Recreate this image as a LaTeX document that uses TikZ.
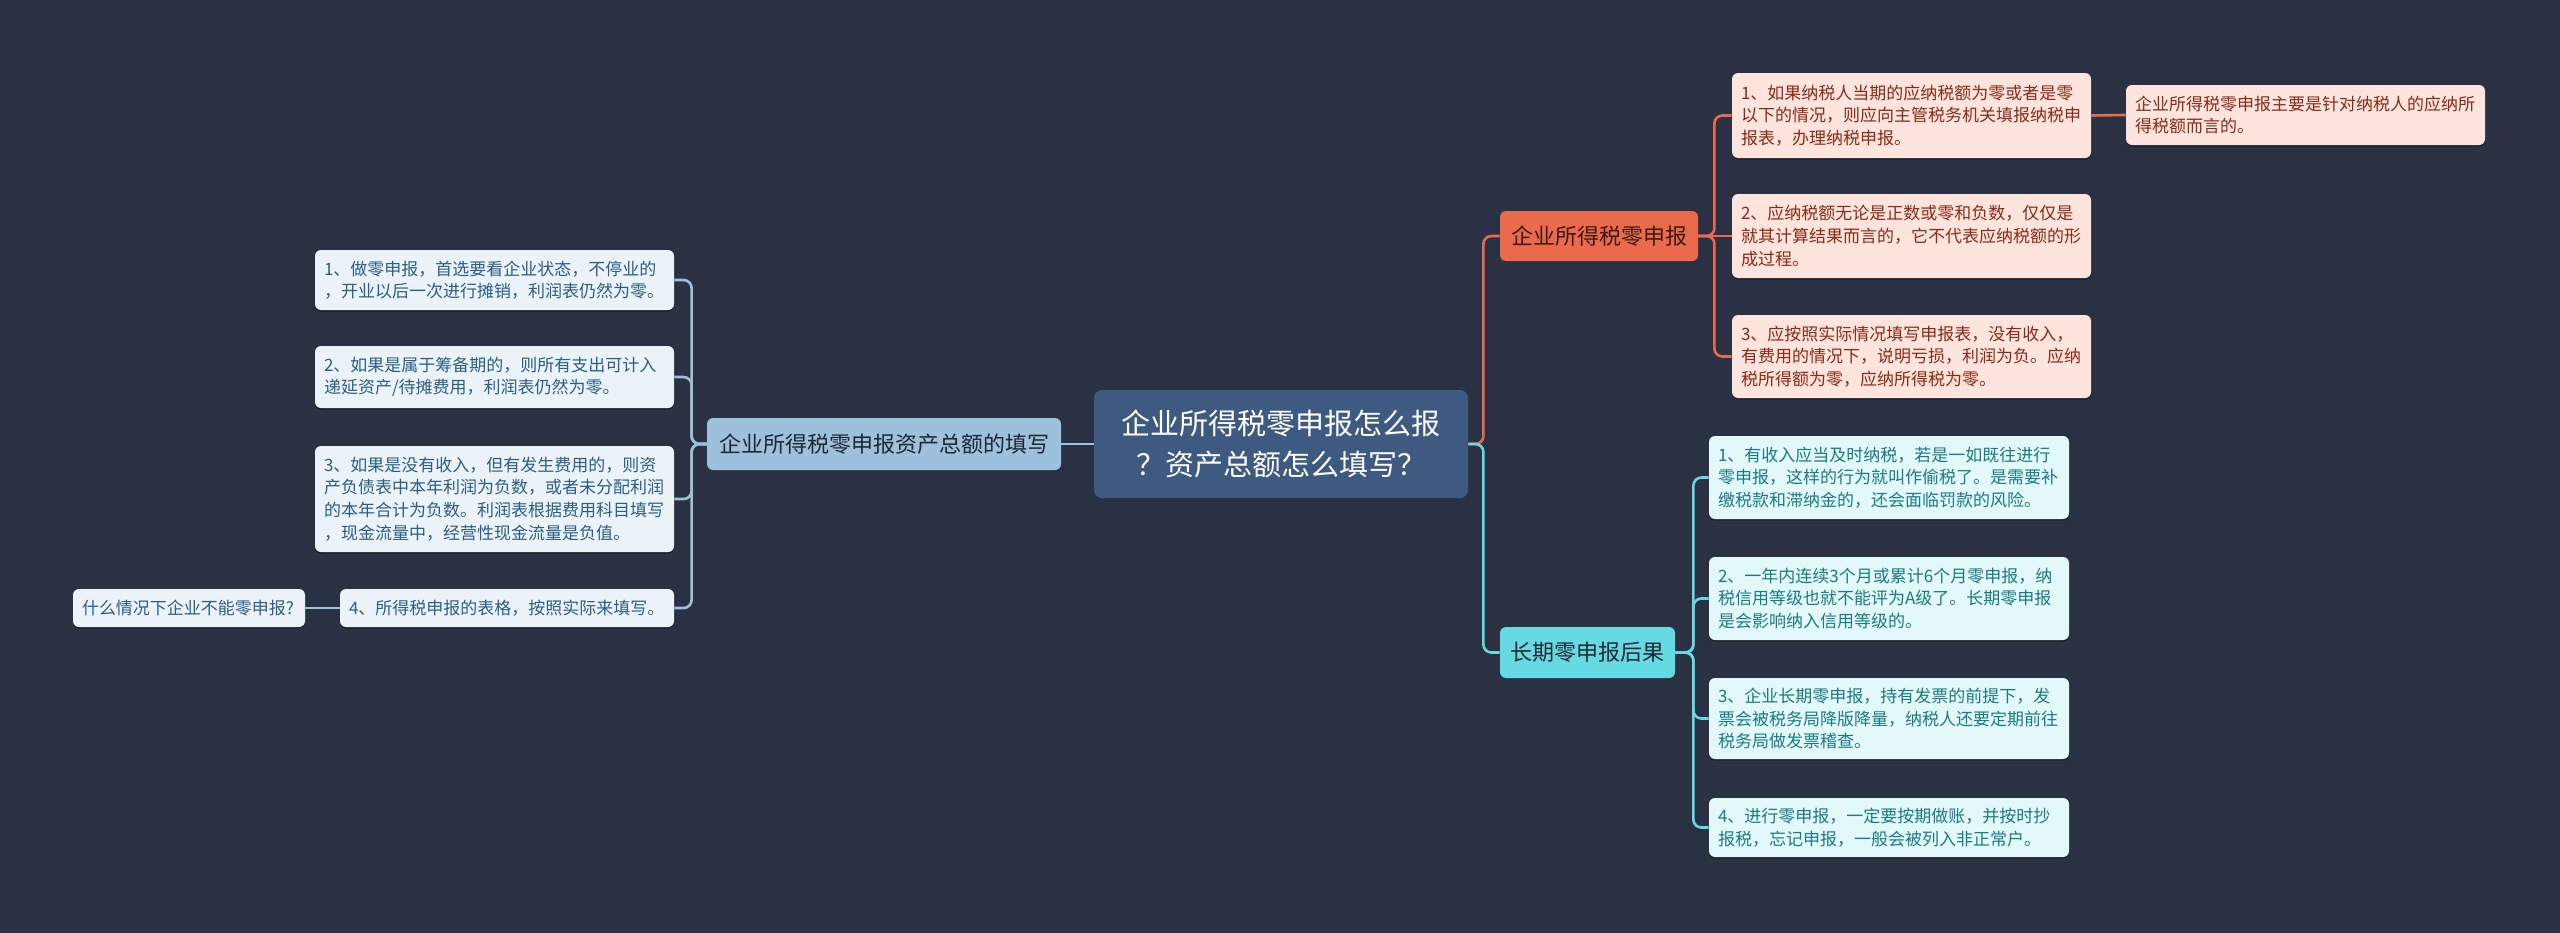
\documentclass[tikz,border=0pt]{standalone}
\usepackage{fontspec}
\setmainfont{Noto Sans CJK SC}
\usetikzlibrary{shadows}
\definecolor{bgc}{HTML}{2A3142}
\definecolor{centerc}{HTML}{3E5A80}
\definecolor{orangec}{HTML}{EB6A4C}
\definecolor{orangeleaf}{HTML}{FDE4DC}
\definecolor{orangetext}{HTML}{8A2A18}
\definecolor{orangebr}{HTML}{3B1B14}
\definecolor{cyanc}{HTML}{66DAE2}
\definecolor{cyanleaf}{HTML}{E2F8F9}
\definecolor{cyantext}{HTML}{1B7A82}
\definecolor{bluec}{HTML}{9DC1DC}
\definecolor{blueleaf}{HTML}{EBF3F9}
\definecolor{bluetext}{HTML}{2C5E84}
\definecolor{darktext}{HTML}{1E2733}
\begin{document}
\begin{tikzpicture}[x=0.5pt,y=-0.5pt,
  leafbase/.style={rounded corners=3pt, inner xsep=4.5pt, inner ysep=0pt, align=left,
     font=\fontsize{8.5}{11.3}\selectfont,
     drop shadow={shadow xshift=0pt, shadow yshift=-0.8pt, opacity=0.35, fill=black}},
  oleaf/.style={leafbase, fill=orangeleaf, text=orangetext},
  cleaf/.style={leafbase, fill=cyanleaf, text=cyantext},
  bleaf/.style={leafbase, fill=blueleaf, text=bluetext},
  branch/.style={rounded corners=3pt, inner sep=0pt, align=center, font=\fontsize{11}{14}\selectfont},
  oline/.style={draw=orangec, line width=1.3pt, rounded corners=4pt},
  cline/.style={draw=cyanc, line width=1.3pt, rounded corners=4pt},
  bline/.style={draw=bluec, line width=1.3pt, rounded corners=4pt}
]
\useasboundingbox (0,0) rectangle (2560,932);
\fill[bgc] (-2,-2) rectangle (2562,934);

% center
\node[rounded corners=4pt, fill=centerc, text=white, align=center, inner sep=0pt,
  minimum width=187pt, minimum height=54pt, font=\fontsize{14.5}{20.5}\selectfont]
  (C) at (1281,444) {企业所得税零申报怎么报\\？资产总额怎么填写？};

% branches
\node[branch, fill=orangec, text=orangebr, minimum width=99pt, minimum height=25pt]
  (bO) at (1599,236) {企业所得税零申报};
\node[branch, fill=cyanc, text=darktext, minimum width=87.5pt, minimum height=25.5pt]
  (bC) at (1587.5,652.5) {长期零申报后果};
\node[branch, fill=bluec, text=darktext, minimum width=177pt, minimum height=26pt]
  (bL) at (884,444) {企业所得税零申报资产总额的填写};

% orange leaves
\node[oleaf, minimum width=179.5pt, text width=170.5pt, minimum height=42.5pt]
  (O1) at (1911.5,115.5) {1、如果纳税人当期的应纳税额为零或者是零\\以下的情况，则应向主管税务机关填报纳税申\\报表，办理纳税申报。};
\node[oleaf, minimum width=179.5pt, text width=170.5pt, minimum height=42pt]
  (O2) at (1911.5,236) {2、应纳税额无论是正数或零和负数，仅仅是\\就其计算结果而言的，它不代表应纳税额的形\\成过程。};
\node[oleaf, minimum width=179.5pt, text width=170.5pt, minimum height=41.5pt]
  (O3) at (1911.5,356.5) {3、应按照实际情况填写申报表，没有收入，\\有费用的情况下，说明亏损，利润为负。应纳\\税所得额为零，应纳所得税为零。};
\node[oleaf, minimum width=179.5pt, text width=170.5pt, minimum height=30pt]
  (SO) at (2305.5,115) {企业所得税零申报主要是针对纳税人的应纳所\\得税额而言的。};

% cyan leaves
\node[cleaf, minimum width=180pt, text width=171pt, minimum height=41.5pt]
  (C1) at (1889,477.5) {1、有收入应当及时纳税，若是一如既往进行\\零申报，这样的行为就叫作偷税了。是需要补\\缴税款和滞纳金的，还会面临罚款的风险。};
\node[cleaf, minimum width=180pt, text width=171pt, minimum height=41.5pt]
  (C2) at (1889,598.5) {2、一年内连续3个月或累计6个月零申报，纳\\税信用等级也就不能评为A级了。长期零申报\\是会影响纳入信用等级的。};
\node[cleaf, minimum width=180pt, text width=171pt, minimum height=40.5pt]
  (C3) at (1889,718.5) {3、企业长期零申报，持有发票的前提下，发\\票会被税务局降版降量，纳税人还要定期前往\\税务局做发票稽查。};
\node[cleaf, minimum width=180pt, text width=171pt, minimum height=29.5pt]
  (C4) at (1889,827.5) {4、进行零申报，一定要按期做账，并按时抄\\报税，忘记申报，一般会被列入非正常户。};

% left leaves
\node[bleaf, minimum width=179.5pt, text width=170.5pt, minimum height=30pt]
  (L1) at (494.5,280) {1、做零申报，首选要看企业状态，不停业的\\，开业以后一次进行摊销，利润表仍然为零。};
\node[bleaf, minimum width=179.5pt, text width=170.5pt, minimum height=31pt]
  (L2) at (494.5,377) {2、如果是属于筹备期的，则所有支出可计入\\递延资产/待摊费用，利润表仍然为零。};
\node[bleaf, minimum width=179.5pt, text width=170.5pt, minimum height=53pt]
  (L3) at (494.5,499) {3、如果是没有收入，但有发生费用的，则资\\产负债表中本年利润为负数，或者未分配利润\\的本年合计为负数。利润表根据费用科目填写\\，现金流量中，经营性现金流量是负值。};
\node[bleaf, minimum width=167pt, text width=158pt, minimum height=19pt]
  (L4) at (507,608) {4、所得税申报的表格，按照实际来填写。};
\node[bleaf, minimum width=116pt, text width=107pt, minimum height=19pt]
  (SL) at (189,608) {什么情况下企业不能零申报?};

% connectors
\draw[oline] (C.east) -- ++(15,0) |- (bO.west);
\draw[cline] (C.east) -- ++(15,0) |- (bC.west);
\draw[bline] (C.west) -- (bL.east);

\draw[oline] (bO.east) -- ++(16,0) |- (O1.west);
\draw[oline] (bO.east) -- (O2.west);
\draw[oline] (bO.east) -- ++(16,0) |- (O3.west);
\draw[oline] (O1.east) -- (SO.west);

\draw[cline] (bC.east) -- ++(18,0) |- (C1.west);
\draw[cline] (bC.east) -- ++(18,0) |- (C2.west);
\draw[cline] (bC.east) -- ++(18,0) |- (C3.west);
\draw[cline] (bC.east) -- ++(18,0) |- (C4.west);

\draw[bline] (bL.west) -- ++(-15,0) |- (L1.east);
\draw[bline] (bL.west) -- ++(-15,0) |- (L2.east);
\draw[bline] (bL.west) -- ++(-15,0) |- (L3.east);
\draw[bline] (bL.west) -- ++(-15,0) |- (L4.east);
\draw[bline] (L4.west) -- (SL.east);
\end{tikzpicture}
\end{document}
